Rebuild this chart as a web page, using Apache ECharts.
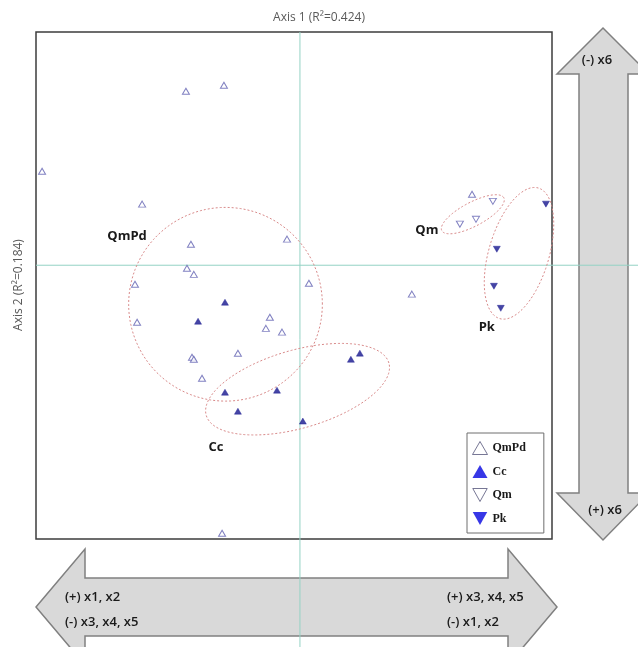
<!DOCTYPE html>
<html>
<head>
<meta charset="utf-8">
<script src="https://cdn.jsdelivr.net/npm/echarts@6/dist/echarts.min.js"></script>
<style>
  html, body { margin: 0; padding: 0; background: #ffffff; }
  #chart { width: 638px; height: 647px; }
</style>
</head>
<body>
<div id="chart"></div>
<script>
// Ordination scores (Axis 1, Axis 2) per group
const groupNames = ['QmPd', 'Cc', 'Qm', 'Pk'];

const qmpdScores = [
  [-0.977, 0.371], [-0.432, 0.686], [-0.288, 0.710], [-0.598, 0.241],
  [-0.413, 0.083], [-0.049, 0.103], [-0.428, -0.012], [-0.402, -0.036],
  [-0.625, -0.075], [0.034, -0.071], [-0.617, -0.225], [-0.114, -0.205],
  [-0.129, -0.249], [-0.068, -0.264], [-0.235, -0.347], [-0.409, -0.363],
  [-0.402, -0.371], [-0.371, -0.446], [0.652, 0.280], [0.424, -0.114],
  [-0.295, -1.057]
];
const ccScores = [
  [-0.284, -0.146], [-0.386, -0.221], [-0.284, -0.501], [-0.087, -0.493],
  [-0.235, -0.576], [0.011, -0.615], [0.193, -0.371], [0.227, -0.347]
];
const qmScores = [[0.731, 0.252], [0.606, 0.162], [0.667, 0.181]];
const pkScores = [[0.932, 0.241], [0.746, 0.063], [0.735, -0.083], [0.761, -0.170]];

// Group envelopes: centre x, centre y, semi-axis a, semi-axis b (axis-1 units), tilt in degrees
const envelopeNames = ['QmPd', 'Cc', 'Qm', 'Pk'];
const envelopeCentres = [[-0.282, -0.154], [-0.009, -0.489], [0.655, 0.201], [0.830, 0.047]];
const envelopeAxes = [[0.367, 0.367], [0.360, 0.148], [0.133, 0.045], [0.258, 0.114]];
const envelopeTilt = [0, 16, 28, 73.5];
const envelopeLabelAt = [[-0.655, 0.114], [-0.318, -0.718], [0.481, 0.138], [0.708, -0.245]];

// Axis titles and arrow annotations
const xTitle = 'Axis 1 (R\u00B2=0.424)';
const yTitle = 'Axis 2 (R\u00B2=0.184)';
const leftArrowText = ['(+) x1, x2', '(-) x3, x4, x5'];
const rightArrowText = ['(+) x3, x4, x5', '(-) x1, x2'];
const upArrowText = '(-) x6';
const downArrowText = '(+) x6';

const DOWN_TRI = 'path://M0,0L10,0L5,9Z';
const openColor = '#6262b2';
const fillColor = '#16168e';

const chart = echarts.init(document.getElementById('chart'), null, { renderer: 'canvas' });

function ellipsePoints(c, ax, ay, tiltDeg) {
  const th = tiltDeg * Math.PI / 180;
  const pts = [];
  for (let i = 0; i < 120; i++) {
    const t = i / 120 * Math.PI * 2;
    const ex = ax * Math.cos(t), ey = ay * Math.sin(t);
    pts.push([c[0] + ex * Math.cos(th) - ey * Math.sin(th),
              c[1] - (ex * Math.sin(th) + ey * Math.cos(th))]);
  }
  return pts;
}

const envelopeData = envelopeNames.map((n, i) => [i]);

const arrowStyle = { fill: '#d9d9d9', stroke: '#808080', lineWidth: 1.5 };
const arrowFont = '600 13px "Open Sans", sans-serif';

const option = {
  animation: false,
  backgroundColor: '#ffffff',
  title: {
    text: xTitle,
    left: 'center',
    top: 7,
    textStyle: { fontFamily: '"Open Sans", sans-serif', fontSize: 12, fontWeight: 'normal', color: '#595959' }
  },
  grid: {
    left: 36, top: 32, width: 516, height: 507,
    show: true, borderColor: '#3d3d3d', borderWidth: 1.5, backgroundColor: 'transparent'
  },
  xAxis: {
    type: 'value', min: -1.0, max: 0.955,
    axisLine: { show: false }, axisTick: { show: false }, axisLabel: { show: false }, splitLine: { show: false }
  },
  yAxis: {
    type: 'value', min: -1.08, max: 0.92,
    axisLine: { show: false }, axisTick: { show: false }, axisLabel: { show: false }, splitLine: { show: false }
  },
  legend: {
    orient: 'vertical',
    left: 467, top: 433,
    padding: [8, 18, 8, 5],
    itemWidth: 15, itemHeight: 13, itemGap: 10,
    backgroundColor: '#ffffff',
    borderColor: '#6e6e6e', borderWidth: 1,
    textStyle: { fontFamily: '"Liberation Serif", serif', fontWeight: 'bold', fontSize: 12, color: '#1a1a1a' },
    data: [
      { name: groupNames[0], icon: 'triangle', itemStyle: { color: '#ffffff', borderColor: '#55557a', borderWidth: 1 } },
      { name: groupNames[1], icon: 'triangle', itemStyle: { color: '#0505e0', borderWidth: 0 } },
      { name: groupNames[2], icon: DOWN_TRI, itemStyle: { color: '#ffffff', borderColor: '#55557a', borderWidth: 1 } },
      { name: groupNames[3], icon: DOWN_TRI, itemStyle: { color: '#0505e0', borderWidth: 0 } }
    ]
  },
  graphic: [
    // horizontal double arrow
    { type: 'polygon', z: 0, shape: { points: [[36, 607], [85, 549], [85, 578], [508, 578], [508, 549], [557, 607], [508, 665], [508, 636], [85, 636], [85, 665]] }, style: arrowStyle },
    // vertical double arrow
    { type: 'polygon', z: 0, shape: { points: [[603, 28], [649, 74], [628, 74], [628, 493], [649, 493], [603, 540], [557, 493], [579, 493], [579, 74], [557, 74]] }, style: arrowStyle },
    { type: 'text', z: 1, x: 65, y: 597, style: { text: leftArrowText[0], font: arrowFont, fill: '#1a1a1a', verticalAlign: 'middle' } },
    { type: 'text', z: 1, x: 65, y: 622, style: { text: leftArrowText[1], font: arrowFont, fill: '#1a1a1a', verticalAlign: 'middle' } },
    { type: 'text', z: 1, x: 447, y: 597, style: { text: rightArrowText[0], font: arrowFont, fill: '#1a1a1a', verticalAlign: 'middle' } },
    { type: 'text', z: 1, x: 447, y: 622, style: { text: rightArrowText[1], font: arrowFont, fill: '#1a1a1a', verticalAlign: 'middle' } },
    { type: 'text', z: 1, x: 597, y: 60, style: { text: upArrowText, font: arrowFont, fill: '#1a1a1a', align: 'center', verticalAlign: 'middle' } },
    { type: 'text', z: 1, x: 605, y: 510, style: { text: downArrowText, font: arrowFont, fill: '#1a1a1a', align: 'center', verticalAlign: 'middle' } },
    { type: 'text', z: 1, x: 19, y: 285, rotation: Math.PI / 2,
      style: { text: yTitle, font: '12px "Open Sans", sans-serif', fill: '#595959', align: 'center', verticalAlign: 'middle' } }
  ],
  series: [
    {
      // zero reference lines for both axes
      name: 'zero-lines',
      type: 'custom',
      silent: true,
      clip: false,
      z: 3,
      data: [[0, 0]],
      renderItem: function (params, api) {
        const o = api.coord([api.value(0), api.value(1)]);
        const tl = api.coord([-1.0, 0.92]);
        return {
          type: 'group',
          children: [
            { type: 'line', shape: { x1: o[0], y1: tl[1], x2: o[0], y2: 647 }, style: { stroke: '#94d2c4', lineWidth: 1 } },
            { type: 'line', shape: { x1: tl[0], y1: o[1], x2: 638, y2: o[1] }, style: { stroke: '#94d2c4', lineWidth: 1 } }
          ]
        };
      }
    },
    {
      name: 'envelopes',
      type: 'custom',
      silent: true,
      clip: false,
      z: 4,
      data: envelopeData,
      renderItem: function (params, api) {
        const i = api.value(0);
        const c = api.coord(envelopeCentres[i]);
        const a = api.size([envelopeAxes[i][0], 0])[0];
        const b = api.size([envelopeAxes[i][1], 0])[0];
        const lp = api.coord(envelopeLabelAt[i]);
        return {
          type: 'group',
          children: [
            { type: 'polygon', shape: { points: ellipsePoints(c, a, b, envelopeTilt[i]) },
              style: { fill: 'none', stroke: '#d98a8a', lineWidth: 1, lineDash: [2, 2] } },
            { type: 'text', x: lp[0], y: lp[1],
              style: { text: envelopeNames[i], font: 'bold 13px "Open Sans", sans-serif', fill: '#1a1a1a', align: 'center', verticalAlign: 'middle' } }
          ]
        };
      }
    },
    {
      name: groupNames[0], type: 'scatter', z: 5, data: qmpdScores,
      symbol: 'triangle', symbolSize: [7, 6],
      itemStyle: { color: '#ffffff', borderColor: openColor, borderWidth: 1 }
    },
    {
      name: groupNames[1], type: 'scatter', z: 5, data: ccScores,
      symbol: 'triangle', symbolSize: [7, 6],
      itemStyle: { color: fillColor, borderColor: fillColor, borderWidth: 0.5 }
    },
    {
      name: groupNames[2], type: 'scatter', z: 5, data: qmScores,
      symbol: DOWN_TRI, symbolSize: [7, 6],
      itemStyle: { color: '#ffffff', borderColor: openColor, borderWidth: 1 }
    },
    {
      name: groupNames[3], type: 'scatter', z: 5, data: pkScores,
      symbol: DOWN_TRI, symbolSize: [7, 6],
      itemStyle: { color: fillColor, borderColor: fillColor, borderWidth: 0.5 }
    }
  ]
};

chart.setOption(option);
</script>
</body>
</html>
